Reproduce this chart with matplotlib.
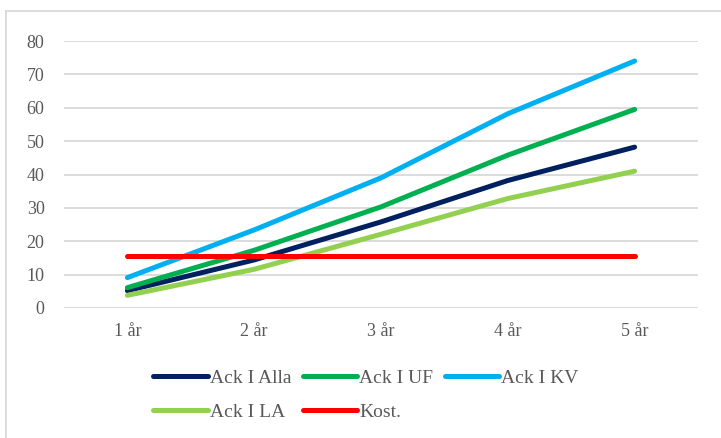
import matplotlib.pyplot as plt
from matplotlib.lines import Line2D

categories = ["1 år", "2 år", "3 år", "4 år", "5 år"]
ack_alla = [5.2, 14.4, 25.8, 38.2, 48.2]
ack_uf = [6.1, 17.3, 30.3, 45.8, 59.5]
ack_kv = [9.1, 23.4, 39.0, 58.2, 74.0]
ack_la = [3.8, 11.6, 22.1, 32.8, 41.0]
kost = [15.6, 15.6, 15.6, 15.6, 15.6]

series = [
    ("Ack I Alla", ack_alla, "#002060"),
    ("Ack I UF", ack_uf, "#00B050"),
    ("Ack I KV", ack_kv, "#00B0F0"),
    ("Ack I LA", ack_la, "#92D050"),
    ("Kost.", kost, "#FF0000"),
]


def main():
    plt.rcParams['font.family'] = ['Liberation Serif', 'DejaVu Serif']
    text_color = "#595959"
    grid_color = "#d9d9d9"

    fig = plt.figure(figsize=(7.21, 4.38), dpi=100)
    ax = fig.add_axes([64 / 721, 1 - 308 / 438, 634 / 721, 267 / 438])

    x = list(range(1, len(categories) + 1))
    lines = []
    for name, values, color in series:
        line, = ax.plot(x, values, color=color, linewidth=3.6, label=name,
                        solid_capstyle='round', solid_joinstyle='round')
        lines.append(line)

    ax.set_xlim(0.5, 5.5)
    ax.set_ylim(0, 80)
    ax.set_yticks(range(0, 81, 10))
    ax.set_xticks(x)
    ax.set_xticklabels(categories)

    ax.yaxis.grid(True, color=grid_color, linewidth=1.3)
    ax.set_axisbelow(True)
    for side in ['top', 'right', 'left', 'bottom']:
        ax.spines[side].set_visible(False)
    ax.tick_params(axis='both', length=0, labelsize=13,
                   labelcolor=text_color)
    ax.tick_params(axis='y', pad=14)
    ax.tick_params(axis='x', pad=11)

    # legend is filled column by column, so reorder to read row by row
    order = [0, 3, 1, 4, 2]
    fig.legend([lines[i] for i in order],
               [series[i][0] for i in order],
               loc='center', bbox_to_anchor=(366 / 721, 1 - 395 / 438),
               ncol=3, frameon=False, fontsize=14,
               labelcolor=text_color, handlelength=2.8,
               handletextpad=0.1, columnspacing=0.6, labelspacing=0.85)

    # outer border (top and left visible)
    fig.add_artist(Line2D([6 / 721, 1], [1 - 11 / 438, 1 - 11 / 438],
                          color=grid_color, linewidth=1.3))
    fig.add_artist(Line2D([6 / 721, 6 / 721], [0, 1 - 11 / 438],
                          color=grid_color, linewidth=1.3))

    fig.savefig("out.png", dpi=100)


if __name__ == "__main__":
    main()
